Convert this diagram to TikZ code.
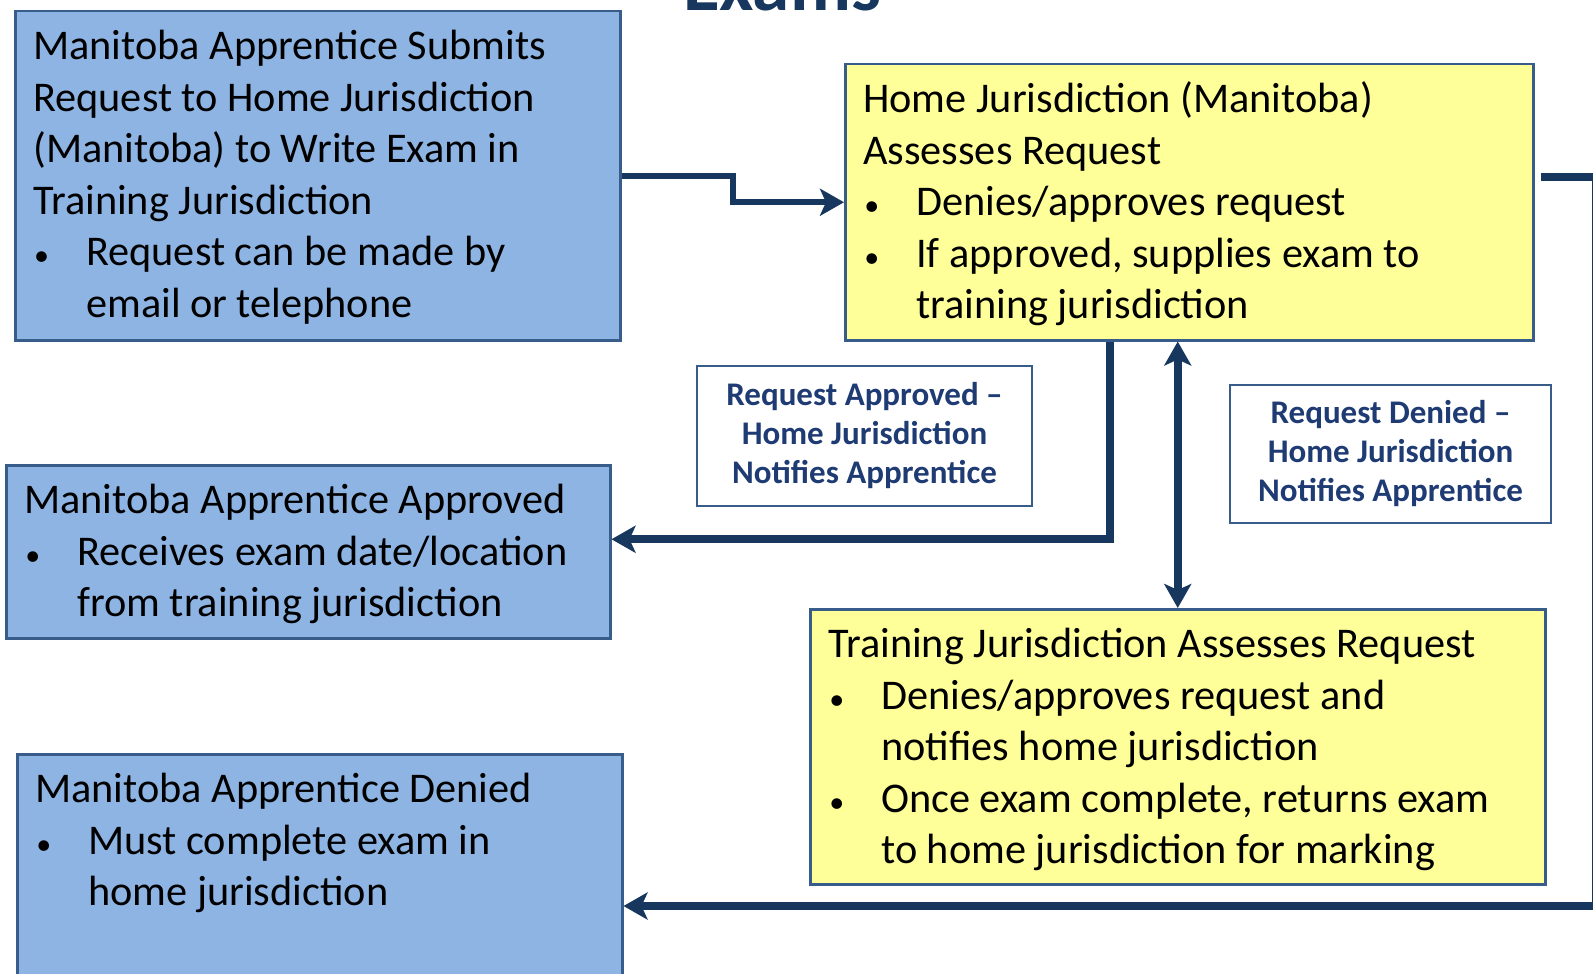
\documentclass[tikz,border=0pt]{standalone}
\usepackage{fontspec}
\setmainfont{Carlito}
\usetikzlibrary{arrows.meta}
\definecolor{bfill}{HTML}{8EB4E3}
\definecolor{yfill}{HTML}{FFFF99}
\definecolor{bord}{HTML}{385D8A}
\definecolor{navy}{HTML}{17375E}
\definecolor{ltext}{HTML}{1F3B73}
\newcommand\nl{\hfil\break}
\newcommand\bul[1]{\par\noindent\hangindent=53pt\hangafter=1\makebox[53pt][l]{\hspace{1pt}{\fontsize{30}{30}\selectfont\textbullet}}#1\par}
\newcommand\fl{\rule{0pt}{48.5pt}}
\tikzset{
  bbox/.style={draw=bord, line width=2.5pt, fill=bfill, anchor=north west, inner xsep=18pt, inner ysep=0pt,
    font=\fontsize{42.3}{51.5}\selectfont},
  ybox/.style={bbox, fill=yfill},
  lbl/.style={draw=bord, line width=2pt, fill=white, text=ltext, align=center,
    font=\bfseries\fontsize{33}{39}\selectfont, inner sep=0pt},
  arr/.style={draw=navy, line width=8pt, line join=miter, -{Stealth[length=24pt,width=27pt,inset=6pt]}},
}
\begin{document}
\begin{tikzpicture}[x=1pt, y=-1pt]
\useasboundingbox (0,0) rectangle (1593,974);
\node[anchor=base, text=navy, font=\bfseries\fontsize{75}{80}\selectfont] (title) at (782,11) {Exams};

\node[bbox] (b1) at (14,10) {\begin{minipage}[t][329pt][t]{569pt}\raggedright
\fl Manitoba Apprentice Submits\\Request to Home Jurisdiction\\(Manitoba) to Write Exam in\\Training Jurisdiction
\bul{Request can be made by\nl email or telephone}
\end{minipage}};

\node[ybox] (home) at (844,63) {\begin{minipage}[t][276pt][t]{652pt}\raggedright
\fl Home Jurisdiction (Manitoba)\\Assesses Request
\bul{Denies/approves request}
\bul{If approved, supplies exam to\nl training jurisdiction}
\end{minipage}};

\node[bbox] (appr) at (5,464) {\begin{minipage}[t][173pt][t]{568pt}\raggedright
\fl Manitoba Apprentice Approved
\bul{Receives exam date/location\nl from training jurisdiction}
\end{minipage}};

\node[ybox] (train) at (809,608) {\begin{minipage}[t][275pt][t]{699pt}\raggedright
\fl Training Jurisdiction Assesses Request
\bul{Denies/approves request and\nl notifies home jurisdiction}
\bul{Once exam complete, returns exam\nl to home jurisdiction for marking}
\end{minipage}};

\node[bbox] (den) at (16,753) {\begin{minipage}[t][240pt][t]{569pt}\raggedright
\fl Manitoba Apprentice Denied
\bul{Must complete exam in\nl home jurisdiction}
\end{minipage}};

\node[lbl, minimum width=335pt, minimum height=140pt] (la) at (864.5,436) {Request Approved –\\Home Jurisdiction\\Notifies Apprentice};
\node[lbl, minimum width=321pt, minimum height=138pt] (ld) at (1390.5,454) {Request Denied –\\Home Jurisdiction\\Notifies Apprentice};

\coordinate (rc) at (1596,906);

\draw[arr, line width=6pt] (b1.east) -- ++(111,0) |- (home.west);
\draw[arr] ([xshift=-79pt]home.south) |- ([yshift=12.5pt]appr.east);
\draw[arr, {Stealth[length=24pt,width=27pt,inset=6pt]}-{Stealth[length=24pt,width=27pt,inset=6pt]}] (train.north |- home.south) -- (train.north);
\draw[arr] ([xshift=6pt,yshift=25pt]home.east) -| (rc) -- (den.east |- rc);
\end{tikzpicture}
\end{document}
